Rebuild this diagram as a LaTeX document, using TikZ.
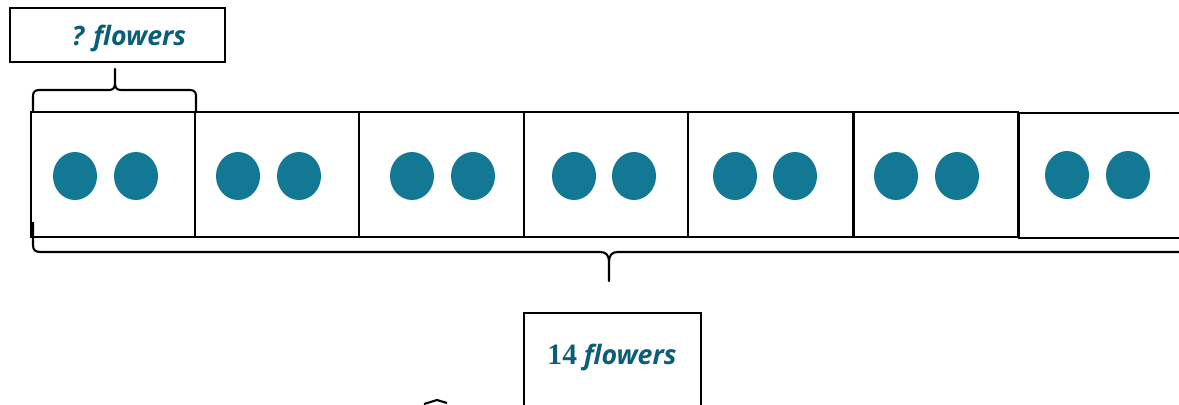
\documentclass[tikz,border=0pt]{standalone}
\usepackage{xcolor}
\usepackage{fontspec}
\newfontfamily\lblfont{Open Sans}
\newfontfamily\numfont{Liberation Serif}
\usepackage{tikz}
\usetikzlibrary{shapes.geometric}

\begin{document}
\begin{tikzpicture}[x=0.025cm,y=-0.025cm]
    \definecolor{myteal}{RGB}{19,120,147}
    \definecolor{mytext}{RGB}{11,94,120}

    \tikzstyle{frame}=[rectangle,draw,line width=1.5pt,fill=white,inner sep=0pt]  % 方框
    \tikzstyle{cell}=[frame,minimum width=4.12cm,minimum height=3.125cm]  % 格子
    \tikzstyle{dot}=[ellipse,fill=myteal,inner sep=0pt,minimum width=1.1cm,minimum height=1.2cm]  % 花
    \tikzstyle{lbl}=[text=mytext,font=\lblfont\bfseries\itshape\fontsize{19pt}{22pt}\selectfont]  % 文字
    \tikzstyle{brace}=[line width=1.5pt,line join=round]  % 括号

    \useasboundingbox (0,0) rectangle (1179,404);

    % 问题框
    \node[frame,minimum width=5.375cm,minimum height=1.35cm](part) at (117.5,35){};
    \node[lbl](part text) at (129,38){? flowers};

    % 格子
    \node[cell](c1) at (113.5,174.5){};
    \node[cell](c2) at (277.5,174.5){};
    \node[cell](c3) at (441.5,174.5){};
    \node[cell](c4) at (606,174.5){};
    \node[cell](c5) at (770.5,174.5){};
    \node[cell](c6) at (936,174.5){};
    \node[cell](c7) at (1101,175.5){};

    % 花
    \node[dot](d1a) at (75,176){};
    \node[dot](d1b) at (136,176){};
    \node[dot](d2a) at (238,176){};
    \node[dot](d2b) at (299,176){};
    \node[dot](d3a) at (412,176){};
    \node[dot](d3b) at (473,176){};
    \node[dot](d4a) at (574,176){};
    \node[dot](d4b) at (634,176){};
    \node[dot](d5a) at (735,176){};
    \node[dot](d5b) at (795,176){};
    \node[dot](d6a) at (896,176){};
    \node[dot](d6b) at (957,176){};
    \node[dot](d7a) at (1067,175){};
    \node[dot](d7b) at (1128,175){};

    % 上面的小括号
    \draw[brace] (33,112) -- (33,96) .. controls (33,92) and (35,90) .. (39,90) -- (109,90)
        .. controls (113,90) and (115,88) .. (115,83) -- (115,69)
        -- (115,83) .. controls (115,88) and (117,90) .. (121,90) -- (190,90)
        .. controls (194,90) and (196,92) .. (196,96) -- (196,112);

    % 下面的大括号
    \draw[brace] (33,222) -- (33,245) .. controls (33,250) and (35,252) .. (41,252) -- (600,252)
        .. controls (606,252) and (609,255) .. (609,262) -- (609,281)
        -- (609,262) .. controls (609,255) and (612,252) .. (618,252) -- (1190,252);

    % 总数框
    \node[frame,minimum width=4.425cm,minimum height=3cm,anchor=north](whole) at (612.5,312){};
    \node[lbl](whole text) at (612,357){{\numfont\upshape\bfseries\fontsize{21pt}{24pt}\selectfont 14} flowers};

    % 底部残片
    \draw[line width=1.5pt] (424,404) -- (437,400) -- (447,403);
\end{tikzpicture}
\end{document}
